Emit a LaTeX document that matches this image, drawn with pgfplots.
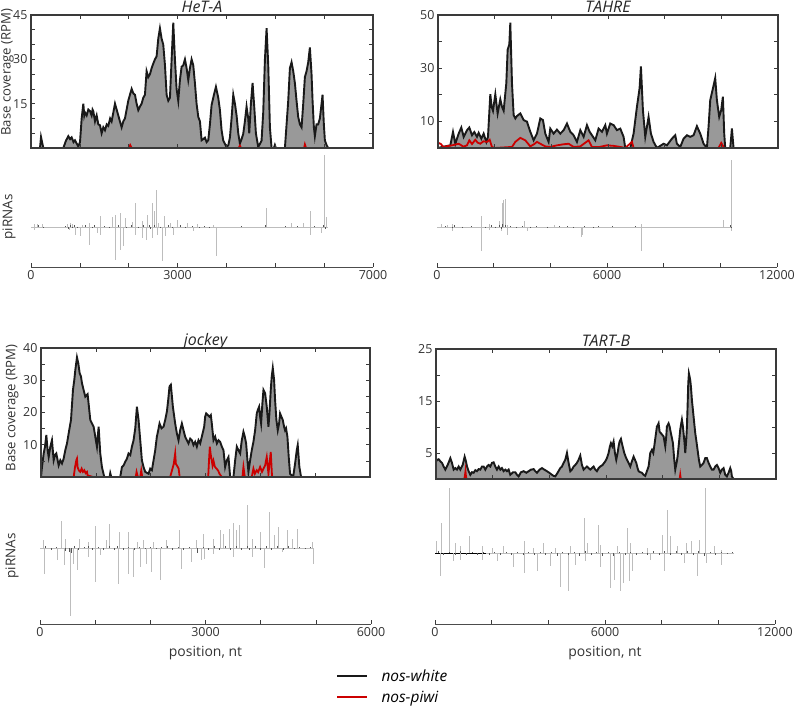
\documentclass[border=0pt]{standalone}
\usepackage{pgfplots}
\pgfplotsset{compat=1.18}
\usepackage{fontspec}
\setmainfont{Open Sans}
\definecolor{fillgray}{HTML}{999999}
\definecolor{covred}{HTML}{CC0000}
\definecolor{framegray}{HTML}{3A3A3A}
\definecolor{txtgray}{HTML}{333333}
\definecolor{spike}{HTML}{BDBDBD}
\definecolor{spikedark}{HTML}{555555}
\pgfplotsset{
  common/.style={scale only axis, xmin=0, scaled x ticks=false, scaled y ticks=false,
    /pgf/number format/assume math mode=true,
    /pgf/number format/set thousands separator={},
    ticklabel style={font=\fontsize{12.5}{14}\selectfont, text=txtgray},
    tick align=inside, major tick length=4bp, minor tick length=4bp,
    tick style={framegray, line width=0.6bp},
  },
  cov/.style={common, axis on top, ymin=0,
    axis line style={framegray, line width=1.2bp},
    xticklabels={,,,,,,,,,,,,,,},
    every axis title/.style={font=\fontsize{16}{18}\selectfont\itshape, at={(0.5,1)}, anchor=base, yshift=2.2bp, text=black!85},
    ylabel style={font=\fontsize{13.2}{15}\selectfont, text=txtgray, anchor=center},
  },
  pir/.style={common, axis x line*=bottom, axis y line=none, ytick=\empty,
    axis line style={black!70, line width=0.6bp},
    xlabel style={font=\fontsize{14}{16}\selectfont, text=txtgray, at={(axis description cs:0.5,0)}, anchor=base, yshift=-32.7bp},
  },
  blk/.style={draw=black!90, line width=1.9bp, fill=fillgray},
  rd/.style={draw=covred, line width=1.8bp},
  sp/.style={ycomb, draw=spike, line width=0.45bp, forget plot},
  spd/.style={ycomb, draw=spikedark, line width=0.45bp, forget plot},
}
\begin{document}
\begin{tikzpicture}
\path[use as bounding box] (0,0) rectangle (795bp,713bp);

% ---------------- HeT-A coverage
\begin{axis}[cov, at={(31bp,565bp)}, anchor=south west, width=342bp, height=133bp,
  xmax=7000, ymax=45, xtick={0,1000,...,7000}, ytick={15,30,45}, minor ytick={5,10,20,25,35,40},
  title={HeT-A}, ylabel={Base coverage (RPM)}, ylabel style={at={(axis description cs:-0.069,0.57)}}]
\addplot[blk] coordinates {(0,0)(184,0)(205,3.7)(252,0)(662,0)(716,2.5)(764,4)(800,3)(832,3.6)(870,2)(900,2.6)(968,0.5)(1003,2)(1037,10)(1071,15)(1090,11)(1105,12)(1139,11)(1173,13)(1207,12.5)(1241,11)(1260,13)(1275,12.5)(1310,9)(1344,11)(1378,8)(1412,7.7)(1446,5)(1480,7)(1514,6)(1550,8)(1582,7.5)(1620,10)(1650,9)(1685,12)(1719,15)(1753,13)(1787,11)(1820,9)(1855,7)(1889,9)(1923,10)(1957,13)(1991,16)(2025,18)(2060,20)(2094,18.5)(2128,18)(2162,15)(2196,12.8)(2230,14)(2264,15)(2298,17)(2332,18)(2366,26)(2401,24)(2435,25)(2469,27)(2503,28.6)(2537,30)(2571,31)(2605,37)(2639,40.5)(2673,37)(2707,35)(2742,28)(2776,18)(2810,16)(2844,17)(2878,30)(2912,42.4)(2946,30)(2980,20)(3014,16)(3048,23)(3083,27.5)(3117,28)(3151,30)(3185,27)(3219,23)(3253,27)(3287,30)(3321,28)(3355,22)(3389,15)(3424,10.5)(3458,9)(3492,2.6)(3526,3)(3560,3.5)(3594,2)(3628,2.6)(3662,8)(3696,14.5)(3744,18)(3785,20.7)(3833,17)(3867,12.8)(3901,6)(3935,2.5)(4003,0.3)(4040,1)(4071,3.5)(4105,10)(4140,18)(4174,15)(4208,11)(4242,5)(4276,1.5)(4310,3)(4344,4.8)(4378,9)(4412,14)(4446,10)(4467,5)(4501,15)(4535,22)(4569,14)(4603,5)(4651,0.3)(4719,2.5)(4753,12)(4788,30)(4822,40.5)(4856,28)(4890,7)(4924,0)(4972,0)(4992,1)(5013,0)(5197,0)(5231,8)(5265,16)(5299,27)(5333,29)(5367,26)(5401,22)(5435,16)(5469,10.5)(5504,8)(5538,7)(5572,15)(5606,24)(5640,26)(5674,29)(5708,34)(5742,25)(5763,16)(5790,7)(5810,4)(5844,8)(5878,8)(5913,10)(5947,15)(5967,18)(5994,8)(6015,2.6)(6049,1)(6083,0)(7000,0)} \closedcycle;
\addplot[rd] coordinates {(0,0)(2000,0)(2030,1)(2060,0)(4250,0)(4276,0.8)(4300,0)(5590,0)(5606,1.2)(5630,0)(7000,0)};
\end{axis}

% ---------------- HeT-A piRNAs
\begin{axis}[pir, at={(31bp,446bp)}, anchor=south west, width=342bp, height=117bp,
  xmax=7000, ymin=-40, ymax=77, xtick={0,3000,7000}, minor xtick={1000,2000,4000,5000,6000}]
\addplot[draw=spike, line width=0.5bp, forget plot] coordinates {(0,0)(6080,0)};
\addplot[sp] coordinates {(61,3)(129,2.5)(231,3)(741,2.5)(796,3.5)(843,3)(1047,2)(1183,4)(1408,10.7)(1659,10)(1727,12)(1816,14)(1931,9)(2067,5)(2135,24)(2271,6)(2373,12)(2475,24)(2523,15.7)(2564,37)(2611,4)(2727,10.7)(2849,4)(2985,7)(3189,4)(3393,3)(3733,2)(4821,19)(5331,4)(5569,4)(5705,15.7)(6011,72)(6045,10)
(61,-2.7)(775,-3)(911,-7.7)(1013,-9.3)(1183,-17.7)(1353,-6)(1421,-7.7)(1714,-32.7)(1829,-22.7)(1884,-19.3)(2135,-7.7)(2271,-11)(2360,-12.7)(2475,-11)(2577,-7.7)(2679,-34.3)(2747,-9.3)(2917,-7.7)(3325,-4.3)(3801,-29.3)(5705,-7.7)(5943,-6)};
\addplot[spd] coordinates {(150,1.5)(260,-1)(700,1.2)(760,-2)(810,2)(850,-1.5)(880,1.5)(950,-1)(1100,1.5)(1250,-1.2)(1300,1.5)(1500,1.2)(1600,-1.5)(1780,1.5)(1950,-1.2)(2050,1.8)(2200,-1.5)(2300,1.5)(2420,2)(2440,-1.8)(2520,1.5)(2650,-1.5)(2800,1.8)(2900,-1.2)(3050,1.5)(3150,-1)(3300,1.2)(3450,-1.5)(3550,1)(3650,-1)(4300,0.8)(4800,1.5)(5200,0.8)(5450,1)(5800,1.2)(5980,2)(6030,-2)};
\end{axis}
\node[rotate=90, font=\fontsize{13.5}{15}\selectfont, text=txtgray] at (9bp,496bp) {piRNAs};

% ---------------- TAHRE coverage
\begin{axis}[cov, at={(438bp,565bp)}, anchor=south west, width=340bp, height=133bp,
  xmax=12000, ymax=50, xtick={0,2000,...,12000}, ytick={10,30,50}, minor ytick={20,40},
  title={TAHRE}]
\addplot[blk] coordinates {(0,0)(200,0.5)(435,1)(529,6)(612,1.6)(729,5.4)(823,7.7)(906,4.2)(1023,6.7)(1105,7.7)(1200,4.8)(1282,6)(1376,4.2)(1435,5.7)(1529,3.5)(1611,5.4)(1705,2.3)(1764,4.2)(1846,20.2)(1893,15.5)(1940,14)(2023,20.2)(2105,13)(2199,18.3)(2258,15.5)(2317,14)(2411,24.4)(2458,37)(2517,38.9)(2552,47.1)(2611,24.4)(2670,12.4)(2729,11.1)(2787,12)(2905,13)(3022,10.5)(3140,9.9)(3258,6.1)(3375,2.9)(3493,5.4)(3610,11.1)(3704,10.5)(3787,5.4)(3904,2.3)(3963,7.3)(4081,5.4)(4198,6.9)(4316,5.4)(4434,6.7)(4551,9.2)(4669,6.1)(4786,4.8)(4904,2.3)(5022,6.7)(5139,4.2)(5257,8.6)(5351,6.1)(5433,4.8)(5551,2.9)(5668,7.3)(5786,6.1)(5904,8.6)(5962,5.4)(6080,9.2)(6198,8.6)(6315,6.7)(6433,7.3)(6550,4.2)(6609,0)(6786,0)(6903,5.4)(7021,15.5)(7115,22.5)(7162,30.7)(7232,14.3)(7315,4.2)(7432,11.7)(7515,5.4)(7609,2.3)(7726,0)(7962,1.6)(8079,1)(8256,3.5)(8373,4.8)(8432,1.6)(8550,0.4)(8667,3.5)(8785,4.8)(8902,4.2)(9020,4.8)(9138,8.2)(9255,5.4)(9373,1.6)(9490,0)(9549,8)(9608,18)(9690,21.8)(9784,26.3)(9843,18)(9925,11.7)(9996,14.3)(10055,19.3)(10102,5.4)(10137,0)(10314,0)(10373,7.3)(10431,0)(12000,0)} \closedcycle;
\addplot[rd] coordinates {(0,2)(100,1.5)(200,0.3)(317,0.7)(500,1)(729,1.6)(900,0.5)(1023,1)(1105,2.9)(1200,1.5)(1317,3.1)(1400,2)(1493,1.6)(1600,2.5)(1729,2.3)(1823,3.1)(1905,0.4)(2000,0)(2611,0.4)(2729,2.3)(2905,3.8)(3080,2.9)(3258,0.6)(3400,1.5)(3493,2.3)(3610,1.6)(3787,0.6)(3963,0.4)(4198,1)(4434,1.4)(4610,1.6)(4786,0.4)(5022,0.6)(5316,2.9)(5433,0.4)(5700,0.4)(5962,1)(6198,0.8)(6433,0.4)(6609,0)(6845,2.3)(6903,0)(9900,0)(9996,1.9)(10102,0)(12000,0)};
\end{axis}

% ---------------- TAHRE piRNAs
\begin{axis}[pir, at={(437bp,446bp)}, anchor=south west, width=340bp, height=117bp,
  xmax=12000, ymin=-40, ymax=77, xtick={0,6000,12000}, minor xtick={2000,4000,8000,10000}]
\addplot[draw=spike, line width=0.5bp, forget plot] coordinates {(0,0)(10420,0)};
\addplot[sp] coordinates {(141,3)(376,2)(553,3.3)(1552,10.7)(1846,3.3)(2199,5.7)(2293,24)(2352,27)(2411,28)(2470,2.3)(3081,5.7)(4140,2.3)(7197,3.3)(10114,7)(10372,67)
(553,-4.3)(1552,-24.3)(1846,-2.7)(2258,-4.3)(2493,-7.7)(3199,-4.3)(5080,-10)(5139,-7.7)(7197,-24.3)(10372,-4.3)};
\addplot[spd] coordinates {(300,1)(520,-1.5)(600,1.5)(900,-1)(1200,1)(1700,-1)(1900,1.5)(2050,-1.5)(2200,2)(2250,-2.5)(2300,2.5)(2400,1.5)(2600,1.2)(2800,-1)(3000,1)(3300,-1)(3500,0.8)(3900,-0.8)(4300,0.8)(4600,1)(4800,-1)(5200,0.8)(5500,-1)(5700,0.8)(6200,0.6)(7000,0.6)(10350,1.5)(10400,-1.5)};
\end{axis}

% ---------------- jockey coverage
\begin{axis}[cov, at={(41bp,236bp)}, anchor=south west, width=329bp, height=129bp,
  xmax=6000, ymax=40, xtick={0,1000,...,6000}, ytick={10,20,30,40}, minor ytick={5,15,25,35},
  title={jockey}, ylabel={Base coverage (RPM)}, ylabel style={at={(axis description cs:-0.087,0.535)}}]
\addplot[blk] coordinates {(0,0)(18,3.1)(49,7.3)(73,9.4)(97,13)(121,8.3)(140,6.2)(170,9.4)(200,11.4)(231,5.2)(255,6.8)(279,7.3)(322,3.6)(352,5.2)(383,4.2)(413,5.7)(443,8.3)(474,10.4)(504,13.5)(547,17.7)(583,27)(607,30.1)(626,33.2)(656,37.1)(680,35.3)(705,32.2)(729,31.2)(747,29.1)(777,27)(808,24.9)(850,25.7)(874,21.8)(899,17.7)(929,16.6)(960,15.6)(990,12.5)(1020,9.4)(1051,15.6)(1081,7.3)(1111,3.1)(1154,0)(1251,0)(1263,1.2)(1281,0)(1445,0)(1476,3.1)(1506,3.6)(1536,4.7)(1567,5.7)(1597,7.3)(1628,6.8)(1658,9.4)(1688,11.4)(1719,15.1)(1749,21.8)(1779,17.7)(1810,11.4)(1840,5.2)(1870,3.1)(1901,1.6)(1962,1)(1992,2.6)(2022,2.1)(2053,5.2)(2083,8.3)(2113,12.5)(2138,14.5)(2162,16.6)(2198,15.1)(2235,15.6)(2265,17.7)(2296,20.3)(2320,23.9)(2344,28.1)(2368,28.6)(2405,21.8)(2447,16.6)(2478,13.5)(2508,11.4)(2538,14.5)(2569,16.6)(2599,14.5)(2629,12.5)(2660,11.4)(2690,10.4)(2721,11.9)(2751,11.4)(2781,9.9)(2812,10.9)(2842,9.4)(2872,11.4)(2903,10.4)(2933,12.5)(2976,15.6)(2994,18.7)(3012,19.7)(3043,19.2)(3073,18.7)(3097,19.2)(3115,16.6)(3146,11.4)(3176,12.5)(3207,10.4)(3237,11.4)(3267,10.9)(3298,9.4)(3328,8.3)(3358,3.1)(3389,5.2)(3419,6.2)(3450,0)(3510,0)(3541,5.2)(3571,9.4)(3601,8.3)(3632,7.3)(3662,11.4)(3692,14)(3717,12.5)(3741,10.4)(3765,5.2)(3783,1.6)(3814,5.2)(3844,8.3)(3874,10.9)(3905,14.5)(3935,19.7)(3954,20.8)(3978,21.8)(3996,18.7)(4014,16.6)(4038,22.9)(4057,27)(4087,26)(4117,21.8)(4148,15.6)(4166,19.7)(4190,27)(4208,31.2)(4227,33.8)(4251,30.1)(4269,23.9)(4293,17.7)(4318,14.5)(4342,16.6)(4360,19.7)(4384,18.7)(4409,17.7)(4433,15.6)(4451,14.5)(4469,15.1)(4494,12.5)(4518,6.2)(4542,1)(4573,0.5)(4603,0.5)(4634,4.2)(4664,8.3)(4682,9.9)(4712,3.1)(4743,0)(6000,0)} \closedcycle;
\addplot[rd] coordinates {(0,0)(596,0)(620,3)(644,5.2)(656,5.7)(668,3)(692,2)(717,1.6)(741,2.6)(765,1.6)(790,2.1)(814,1.2)(838,1.6)(850,0.5)(948,0)(1727,0)(1743,1.6)(1767,0)(1810,0)(1828,2)(1846,0)(2356,0)(2390,2.1)(2420,4)(2447,7.3)(2460,4)(2478,3.6)(2510,2.6)(2529,0)(3049,0)(3067,6)(3079,9.4)(3095,7)(3128,3.6)(3146,5)(3170,3.2)(3200,2.6)(3230,2)(3255,1)(3298,0)(3674,0)(3692,3.1)(3717,0)(3844,0)(3874,2.6)(3900,1)(3935,2.1)(3960,1.5)(3996,3.1)(4030,1.6)(4087,3.6)(4117,6.2)(4148,1)(4190,7.8)(4214,0)(6000,0)};
\end{axis}

% ---------------- jockey piRNAs
\begin{axis}[pir, at={(40bp,89bp)}, anchor=south west, width=331bp, height=140bp,
  xmax=6000, ymin=-76, ymax=64, xtick={0,3000,6000}, minor xtick={1000,2000,4000,5000},
  xlabel={position, nt},
  legend style={at={(axis description cs:0.894,-0.31)}, anchor=north west, draw=none, fill=none,
    font=\fontsize{15.5}{17}\selectfont\itshape, row sep=4bp, inner sep=0pt, cells={anchor=west},
    /tikz/every odd column/.append style={column sep=11bp}},
  legend image code/.code={\draw[#1, line width=2.4bp] (0bp,0bp) -- (30bp,0bp);}]
\addlegendimage{black!90}\addlegendentry{nos-white}
\addlegendimage{covred}\addlegendentry{nos-piwi}
\addplot[draw=spike, line width=0.5bp, forget plot] coordinates {(0,0)(4950,0)};
\addplot[sp] coordinates {(60,7.7)(384,26.7)(462,9.3)(703,9.3)(883,6)(1003,21.7)(1201,7.7)(1261,24.3)(1441,16)(1604,16)(1754,6)(1874,7.7)(2054,6)(2294,7.7)(2523,18.3)(2835,7.7)(2955,14.3)(3135,9.3)(3267,18.3)(3327,14.3)(3423,19.3)(3495,25)(3555,17.7)(3616,22.7)(3748,42.7)(3856,9.3)(3988,16)(4156,36)(4246,12.7)(4324,21)(4486,17.7)(4577,9.3)(4667,19.3)(4937,6)
(72,-26.3)(312,-12.3)(432,-17.3)(553,-68.3)(601,-15.7)(673,-22.3)(883,-9)(1003,-34)(1093,-7.3)(1423,-35.7)(1592,-25.7)(1694,-29)(1814,-19)(1934,-15.7)(2024,-24)(2174,-32.3)(2565,-20.7)(2745,-14)(2925,-12.3)(2985,-10.7)(3135,-5.7)(3495,-9)(3856,-9)(4066,-19.7)(4396,-4)(4949,-15.7)};
\addplot[spd] coordinates {(100,2)(200,-1.5)(300,1.5)(450,-3)(530,-4)(560,-5)(620,2)(700,-2)(800,1.5)(880,2.5)(950,-1.5)(1050,1.5)(1150,-1.5)(1250,2)(1350,-1.5)(1400,2)(1500,-1.5)(1600,1.5)(1700,-2)(1800,1.5)(1900,-1)(2000,1.5)(2100,-1)(2200,1.5)(2300,2)(2400,-1.5)(2500,1.5)(2600,-1.5)(2700,1)(2850,-5)(2950,1.5)(3050,-2)(3150,2)(3250,-1.5)(3350,2.5)(3450,-1.5)(3550,2)(3650,-1.5)(3750,2.5)(3800,-2)(3900,2.5)(4000,-1.5)(4100,2)(4200,-1.5)(4300,2.5)(4400,-1.5)(4500,2)(4600,-1)(4700,1.5)(4800,-1)(4900,1)};
\end{axis}
\node[rotate=90, font=\fontsize{13.5}{15}\selectfont, text=txtgray] at (12bp,157bp) {piRNAs};

% ---------------- TART-B coverage
\begin{axis}[cov, at={(436bp,234bp)}, anchor=south west, width=340bp, height=130bp,
  xmax=12000, ymax=25, xtick={0,2000,...,12000}, ytick={5,15,25}, minor ytick={10,20},
  title={TART-B}]
\addplot[blk] coordinates {(0,3.4)(47,3.7)(94,3.8)(153,3.4)(212,3.1)(270,2.4)(329,1.8)(412,2.7)(506,4)(564,3.1)(623,1.8)(682,2.1)(741,1.8)(800,2.4)(858,1.8)(941,2.7)(1011,4.3)(1058,3.4)(1094,2.4)(1152,1.5)(1211,0.8)(1270,1.3)(1329,1.2)(1388,1.7)(1446,1.5)(1505,1.9)(1564,1.8)(1623,2.4)(1682,2.4)(1740,1.8)(1799,2.4)(1858,2.7)(1917,2.4)(1976,3.1)(2034,3.2)(2093,2.4)(2152,1.8)(2211,2.4)(2270,1.8)(2328,2.1)(2387,1.5)(2446,1.8)(2505,1.5)(2564,1.8)(2622,0.8)(2716,1.3)(2799,1.3)(2858,0.8)(2916,0.5)(2999,1.3)(3093,1.5)(3187,1.2)(3269,1.5)(3352,1.8)(3446,1.9)(3504,1.5)(3563,1.2)(3657,1.8)(3740,2.1)(3822,1.8)(3916,1.5)(3998,1.2)(4092,0.8)(4151,0.6)(4210,0.5)(4292,1.2)(4386,2.1)(4445,2.4)(4504,3.1)(4563,3.7)(4622,5)(4680,3.1)(4739,1.5)(4798,1.8)(4857,2.4)(4916,2.7)(4974,3.1)(5033,3.7)(5092,4.5)(5151,2.7)(5210,1.8)(5268,2.1)(5327,2.4)(5386,2.1)(5445,1.8)(5504,2.1)(5562,2.4)(5621,1.8)(5680,1.5)(5739,2.1)(5798,2.4)(5880,2.7)(5974,3.4)(6033,4)(6092,5)(6139,6.3)(6174,6.9)(6221,6.3)(6268,7.2)(6315,5)(6362,3.7)(6409,5)(6445,6.3)(6480,7.2)(6527,7.7)(6586,6.3)(6645,5)(6692,4.3)(6739,3.7)(6797,3.1)(6856,2.4)(6915,3.4)(6974,4.3)(7021,3.7)(7068,3.1)(7115,2.1)(7150,1.5)(7209,1.3)(7268,1.2)(7327,0.8)(7385,0.6)(7444,1.5)(7503,2.4)(7562,5)(7621,5.6)(7668,5)(7703,6.3)(7750,8.2)(7797,10.1)(7832,10.4)(7856,10.7)(7891,9.1)(7938,8.8)(7985,8.5)(8032,8.2)(8091,6.3)(8126,8.2)(8150,10.1)(8209,10.7)(8244,10.1)(8291,8.8)(8326,7.9)(8362,6.9)(8409,3.7)(8444,1.8)(8491,3.1)(8526,4.3)(8574,6.9)(8620,9.5)(8656,10.7)(8679,11.4)(8715,10.1)(8738,8.8)(8773,6.9)(8797,5)(8832,7.5)(8856,10.1)(8879,13.9)(8903,18.4)(8926,20.3)(8950,19.7)(8973,19)(8997,17.8)(9032,15.2)(9067,13.3)(9091,12)(9126,10.1)(9150,8.8)(9185,7.5)(9232,5.6)(9279,3.7)(9326,2.4)(9385,2.7)(9444,3.1)(9503,4)(9562,4)(9620,3.1)(9679,2.4)(9738,1.8)(9797,1.8)(9855,2.4)(9914,2.7)(9973,2.1)(10032,1.2)(10091,1.8)(10149,2.1)(10208,0.8)(10267,0.5)(10326,1.2)(10385,2.1)(10420,1.5)(10443,0.5)(10502,0)(12000,0)} \closedcycle;
\addplot[rd] coordinates {(0,0)(1000,0)(1025,0.8)(1040,1.5)(1058,0.5)(1080,0)(8600,0)(8620,0.8)(8640,0)(12000,0)};
\end{axis}

% ---------------- TART-B piRNAs
\begin{axis}[pir, at={(435bp,89bp)}, anchor=south west, width=340bp, height=139bp,
  xmax=12000, ymin=-71, ymax=68, xtick={0,6000,12000}, minor xtick={2000,4000,8000,10000},
  xlabel={position, nt}]
\addplot[draw=spike, line width=0.5bp, forget plot] coordinates {(0,0)(10560,0)};
\addplot[draw=black, line width=1bp, forget plot] coordinates {(0,0)(1800,0)};
\addplot[sp] coordinates {(35,11.7)(236,30)(496,65)(708,10)(885,6.7)(1215,16.7)(1652,6.7)(2006,5)(2419,6.7)(3151,11.7)(3481,5)(3835,10)(4248,5)(4779,6.7)(5251,35)(5369,10)(5747,28.3)(5841,8.3)(6431,6.7)(6785,25)(6903,10)(7493,5)(8024,18.3)(8201,43.3)(8319,16.7)(8555,6.7)(8850,10)(9027,11.7)(9322,13.3)(9523,65)(9853,6.7)(10089,3.3)
(201,-23.3)(649,-8.3)(885,-6.7)(1652,-6.7)(2183,-8.3)(2773,-14)(3162,-20)(3599,-18.3)(4071,-12.7)(4425,-34)(4685,-38.3)(4956,-11.7)(5310,-8.3)(5841,-14)(6195,-35)(6313,-26.7)(6525,-38.3)(6643,-30)(6844,-28.3)(6962,-18.3)(7611,-6.7)(8083,-18.3)(8791,-10)(9263,-23.3)(9558,-10)(10089,-11.7)};
\addplot[spd] coordinates {(100,2)(300,-2)(500,1.5)(700,-1.5)(900,2)(1100,-1.5)(1300,1.5)(1500,-2)(1700,1.5)(1900,-1.5)(2100,1.5)(2300,-1.5)(2500,1.5)(2700,-2)(2900,1.5)(3100,-2)(3300,1.5)(3500,-1.5)(3700,1.5)(3900,-2)(4100,1.5)(4300,-2.5)(4500,1.5)(4700,-2)(4900,1.5)(5100,-2.5)(5300,2)(5500,-2)(5700,1.5)(5900,-3)(6100,1.5)(6300,-2.5)(6500,1.5)(6700,-2)(6900,1.5)(7100,-1.5)(7300,1)(7500,-1.5)(7700,2)(7900,-2)(8100,2.5)(8300,-1.5)(8500,2)(8700,-2)(8900,2.5)(9100,-2)(9300,2)(9500,-2.5)(9700,1.5)(9900,-1.5)(10100,1)(10300,-1)(10500,0.8)};
\end{axis}
\end{tikzpicture}
\end{document}
